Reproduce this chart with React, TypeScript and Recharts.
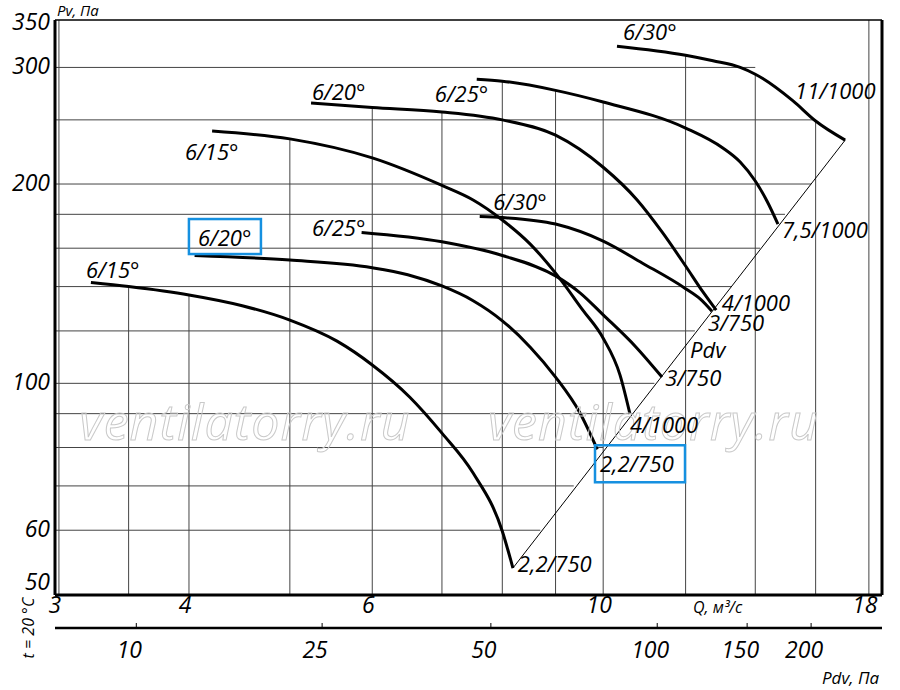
import React from "react";
import { ComposedChart, Line, XAxis, YAxis, ReferenceLine, ReferenceDot } from "recharts";

const FONT = "'Open Sans', 'DejaVu Sans', sans-serif";

// axis ticks
const qTicks = [3, 4, 6, 10, 18];
const pTicks = [350, 300, 200, 100, 60, 50];
const pdvTicks = [10, 25, 50, 100, 150, 200];
// flow (Q) under each Pdv tick on the lower scale
const pdvAtQ = [3.56, 5.37, 7.8, 11.27, 13.75, 15.84];

const Q_MIN = 2.974;
const Q_MAX = 18.53;
const P_MIN = 47.9;
const P_MAX = 353.8;

// grid: vertical lines stop under the top curve, horizontal ones at the Pdv line
const vGridQ = [3, 3.5, 4, 5, 6, 7, 8, 9, 10, 12, 14, 16, 18];
const vGridTop = [P_MAX, 140, 136, 234, 262, 257, 286, 278, 266, 313, 293, 249, P_MAX];
const hGridP = [60, 70, 80, 90, 100, 120, 140, 160, 180, 200, 250, 300];
const hGridEnd = [8.7, 9.37, 10.0, 10.68, 11.2, 12.25, 13.27, 14.15, 14.95, 15.84, 16.0, 14.0];

// lower family
const low15Q = [3.22, 3.5, 4.0, 4.5, 5.0, 5.55, 6.0, 6.52, 7.0, 7.5, 8.0, 8.19];
const low15P = [142, 140, 136, 131, 124.6, 115.8, 106.6, 95.3, 84.1, 73.2, 59.8, 52.6];
const low20Q = [4.05, 5.0, 6.0, 6.49, 7.0, 7.5, 8.0, 8.51, 9.0, 9.5, 9.87];
const low20P = [156, 153.5, 149.5, 145.9, 140.3, 133.3, 124.3, 113.4, 102.2, 90.2, 79.5];
const low25Q = [5.86, 7.0, 8.0, 9.0, 9.5, 10.0, 10.75, 11.39];
const low25P = [169, 163.6, 156, 145.3, 137, 126.9, 113.5, 102.2];
const low30Q = [7.61, 8.0, 9.0, 10.0, 10.9, 12.0, 12.4, 12.72];
const low30P = [178.6, 178, 174, 164, 152, 139, 134, 128.5];

// upper family
const up15Q = [4.21, 5.0, 6.0, 7.0, 7.5, 8.0, 8.51, 9.0, 9.56, 10.0, 10.38, 10.61];
const up15P = [240.5, 234, 219, 199, 189.2, 176.5, 162.3, 146.7, 129, 117, 102.9, 89.9];
const up20Q = [5.24, 6.0, 7.0, 8.0, 9.0, 10.0, 10.78, 11.39, 12.0, 12.47, 12.84];
const up20P = [265, 261, 257, 250, 237, 212, 189.2, 169.3, 150.4, 137.4, 129];
const up25Q = [7.56, 8.0, 9.0, 10.0, 12.0, 13.03, 13.54, 14.0, 14.37, 14.72];
const up25P = [288, 286, 277, 266, 243, 226.7, 215.9, 202.1, 188.4, 174];
const up30Q = [10.31, 12.0, 12.75, 13.54, 14.0, 15.22, 16.0, 17.08];
const up30P = [323, 313, 307, 300, 293, 267, 249, 233];

// dynamic pressure line
const pdvLineQ = [8.19, 17.08];
const pdvLineP = [52.6, 233];

const zip = (q: number[], p: number[]) => q.map((v, i) => ({ q: v, p: p[i] }));

const curves = [
  zip(low15Q, low15P),
  zip(low20Q, low20P),
  zip(low25Q, low25P),
  zip(low30Q, low30P),
  zip(up15Q, up15P),
  zip(up20Q, up20P),
  zip(up25Q, up25P),
  zip(up30Q, up30P),
];

function QTick(props: any) {
  const { x, y, payload } = props;
  return (
    <text x={x - 4} y={y + 18} textAnchor="middle" fontSize={23} fontStyle="italic" fontFamily={FONT} fill="#000">
      {payload.value}
    </text>
  );
}

function PTick(props: any) {
  const { x, y, payload } = props;
  return (
    <text x={x - 5} y={y + 7} textAnchor="end" fontSize={23} fontStyle="italic" fontFamily={FONT} fill="#000">
      {payload.value}
    </text>
  );
}

function PdvTick(props: any) {
  const { x, y, payload } = props;
  const i = pdvAtQ.indexOf(payload.value);
  return (
    <g>
      <line x1={x} y1={y - 5} x2={x} y2={y} stroke="#000" strokeWidth={1} />
      <text x={x - 7} y={y + 30} textAnchor="middle" fontSize={23} fontStyle="italic" fontFamily={FONT} fill="#000">
        {pdvTicks[i]}
      </text>
    </g>
  );
}

function tag(text: string, boxed?: { w: number; h: number; dx: number; dy: number }) {
  return (props: any) => {
    const { cx, cy } = props;
    return (
      <g>
        {boxed && (
          <rect x={cx + boxed.dx} y={cy + boxed.dy} width={boxed.w} height={boxed.h} fill="none" stroke="#1590e0" strokeWidth={2.5} />
        )}
        <text x={cx} y={cy} fontSize={22} fontStyle="italic" fontFamily={FONT} fill="#000">
          {text}
        </text>
      </g>
    );
  };
}

function mark(text: string) {
  return (props: any) => (
    <text
      x={props.cx}
      y={props.cy}
      fontSize={50}
      fontStyle="italic"
      fontFamily={FONT}
      fill="none"
      stroke="#c9c9c9"
      strokeWidth={1}
      textLength={330}
    >
      {text}
    </text>
  );
}

export default function App() {
  const labels = [
    { t: "6/15°", q: 3.185, p: 144.2 },
    { t: "6/20°", q: 4.08, p: 161.2, box: { dx: -9, dy: -27, w: 72, h: 35 } },
    { t: "6/25°", q: 5.25, p: 166.9 },
    { t: "6/15°", q: 3.965, p: 217.4 },
    { t: "6/20°", q: 5.25, p: 267.9 },
    { t: "6/25°", q: 6.89, p: 266 },
    { t: "6/30°", q: 7.84, p: 182.7 },
    { t: "6/30°", q: 10.45, p: 330 },
    { t: "11/1000", q: 15.29, p: 268.8 },
    { t: "7,5/1000", q: 14.85, p: 165.8 },
    { t: "4/1000", q: 13.0, p: 128.6 },
    { t: "3/750", q: 12.61, p: 119.9 },
    { t: "Pdv", q: 12.12, p: 109.2 },
    { t: "3/750", q: 11.47, p: 99.1 },
    { t: "4/1000", q: 10.61, p: 84.1 },
    { t: "2,2/750", q: 9.93, p: 73.4, box: { dx: -5, dy: -27, w: 90, h: 37 } },
    { t: "2,2/750", q: 8.28, p: 51.9 },
  ];

  return (
    <div style={{ position: "relative", width: 900, height: 690, background: "#fff" }}>
      <style>{`body{margin:0;background:#fff}`}</style>
      <ComposedChart width={900} height={690} margin={{ top: 20, right: 18, bottom: 0, left: 0 }}>
        <XAxis
          dataKey="q"
          type="number"
          scale="log"
          domain={[Q_MIN, Q_MAX]}
          allowDataOverflow
          ticks={qTicks}
          interval={0}
          height={33}
          tickSize={0}
          tickMargin={0}
          tickLine={false}
          axisLine={{ stroke: "#000", strokeWidth: 3 }}
          tick={<QTick />}
        />
        <XAxis
          xAxisId="pdv"
          dataKey="q"
          type="number"
          scale="log"
          domain={[Q_MIN, Q_MAX]}
          allowDataOverflow
          ticks={pdvAtQ}
          interval={0}
          height={62}
          tickSize={0}
          tickMargin={0}
          tickLine={false}
          axisLine={{ stroke: "#000", strokeWidth: 2.5 }}
          tick={<PdvTick />}
        />
        <YAxis
          dataKey="p"
          type="number"
          scale="log"
          domain={[P_MIN, P_MAX]}
          allowDataOverflow
          ticks={pTicks}
          interval={0}
          width={55}
          tickSize={0}
          tickMargin={0}
          tickLine={false}
          axisLine={{ stroke: "#000", strokeWidth: 3 }}
          tick={<PTick />}
        />

        {vGridQ.map((q, i) => (
          <ReferenceLine
            key={"v" + i}
            ifOverflow="visible"
            segment={[{ x: q, y: P_MIN }, { x: q, y: vGridTop[i] }]}
            stroke="#444"
            strokeWidth={1}
          />
        ))}
        {hGridP.map((p, i) => (
          <ReferenceLine
            key={"h" + i}
            ifOverflow="visible"
            segment={[{ x: Q_MIN, y: p }, { x: hGridEnd[i], y: p }]}
            stroke="#444"
            strokeWidth={1}
          />
        ))}
        <ReferenceLine y={P_MAX} ifOverflow="visible" stroke="#000" strokeWidth={1.5} />
        <ReferenceLine x={Q_MAX} ifOverflow="visible" stroke="#000" strokeWidth={3} />

        <ReferenceDot x={3.14} y={82.1} r={0} ifOverflow="visible" shape={mark("ventilatorry.ru")} />
        <ReferenceDot x={7.75} y={82.1} r={0} ifOverflow="visible" shape={mark("ventilatorry.ru")} />

        <Line
          data={zip(pdvLineQ, pdvLineP)}
          dataKey="p"
          type="linear"
          stroke="#000"
          strokeWidth={1}
          dot={false}
          isAnimationActive={false}
        />
        {curves.map((c, i) => (
          <Line
            key={"c" + i}
            data={c}
            dataKey="p"
            type="monotone"
            stroke="#000"
            strokeWidth={3}
            dot={false}
            isAnimationActive={false}
          />
        ))}

        {labels.map((l, i) => (
          <ReferenceDot key={"l" + i} x={l.q} y={l.p} r={0} ifOverflow="visible" shape={tag(l.t, l.box)} />
        ))}
      </ComposedChart>

      <svg width={900} height={690} style={{ position: "absolute", left: 0, top: 0, pointerEvents: "none" }}>
        <g fontFamily={FONT} fontStyle="italic" fill="#000">
          <text x={57} y={16} fontSize={15}>Pv, Па</text>
          <text x={693} y={613} fontSize={16}>Q, м³/с</text>
          <text x={822} y={684} fontSize={17}>Pdv, Па</text>
          <text x={34} y={628} fontSize={16} textAnchor="middle" transform="rotate(-90 34 628)">
            t = 20 °C
          </text>
        </g>
      </svg>
    </div>
  );
}
